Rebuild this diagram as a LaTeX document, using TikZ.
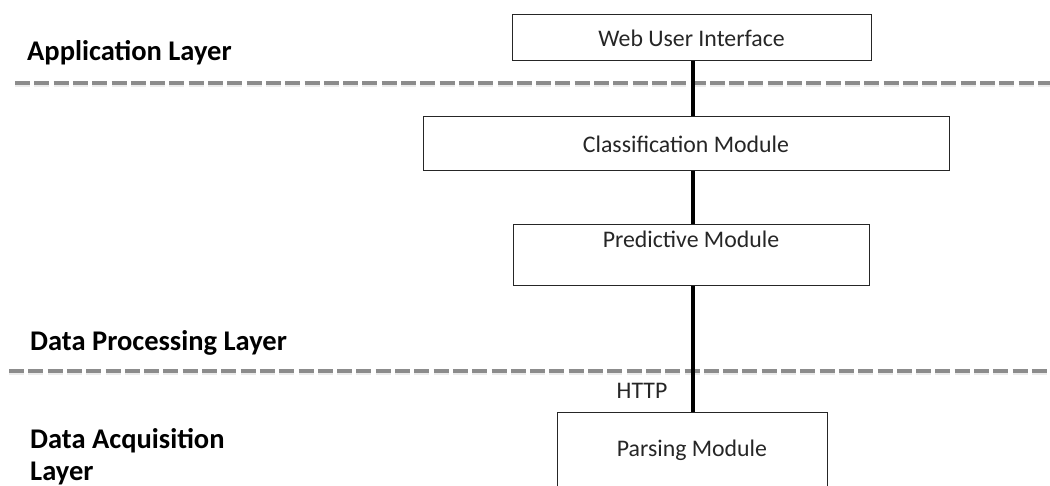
\documentclass[tikz,border=0pt]{standalone}
\usepackage{fontspec}
\setmainfont{Carlito}
\begin{document}
\begin{tikzpicture}[x=1pt,y=-1pt,
  module/.style={draw=black!85, line width=1pt, rectangle, inner sep=0pt,
    font=\fontsize{23.8}{28}\selectfont, text=black!85},
  layerlabel/.style={anchor=west, font=\bfseries\fontsize{28.5}{32}\selectfont,
    align=left, inner sep=0pt},
  divider/.style={draw=black!45, line width=4pt, dash pattern=on 15pt off 4.3pt},
  dividershade/.style={draw=black!8, line width=5pt, dash pattern=on 15pt off 4.3pt},
  link/.style={draw=black, line width=4pt}]
  \useasboundingbox (0,0) rectangle (1050,486);
  \clip (0,0) rectangle (1050,486);

  % layer dividers, each with a faint shade beneath
  \coordinate (d1a) at (15,83);
  \coordinate (d1b) at (1052,83);
  \coordinate (d2a) at (9,371);
  \coordinate (d2b) at (1052,371);
  \draw[dividershade, transform canvas={yshift=-1.5pt}] (d1a) -- (d1b);
  \draw[dividershade, transform canvas={yshift=-1.5pt}] (d2a) -- (d2b);
  \draw[divider] (d1a) -- (d1b);
  \draw[divider] (d2a) -- (d2b);

  % layer names
  \node[layerlabel] (app) at (27,53) {Application Layer};
  \node[layerlabel] (proc) at (30,343) {Data Processing Layer};
  \node[layerlabel] (acq) at (30,457) {Data Acquisition\\Layer};

  % modules
  \node[module, minimum width=359pt, minimum height=46pt] (web) at (691.5,38) {Web User Interface};
  \node[module, minimum width=526pt, minimum height=54pt] (cls) at (686,144) {Classification Module};
  \node[module, minimum width=356pt, text height=23pt, text depth=38pt] (pred) at (691,255) {Predictive Module};
  \node[module, minimum width=270pt, text height=44pt, text depth=44pt] (parse) at (692,456) {Parsing Module};

  % vertical links
  \coordinate (spine) at (693,0);
  \draw[link] (web.south -| spine) -- (cls.north -| spine);
  \draw[link] (cls.south -| spine) -- (pred.north -| spine);
  \draw[link] (pred.south -| spine) -- (parse.north -| spine);

  \node[font=\fontsize{23.8}{28}\selectfont, text=black!85, inner sep=0pt] (http) at (642,391) {HTTP};
\end{tikzpicture}
\end{document}
